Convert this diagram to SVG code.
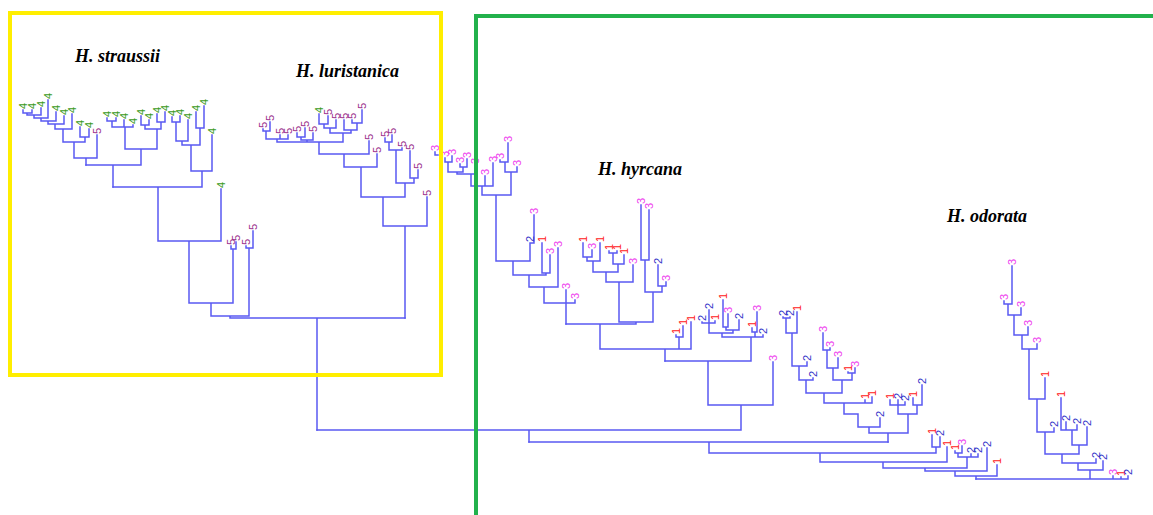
<svg xmlns="http://www.w3.org/2000/svg" width="1153" height="515" viewBox="0 0 1153 515">
<style>
.ln{fill:none;stroke:#5a5af2;stroke-width:1.5;stroke-linecap:square}
.lb text{font-family:"Liberation Sans",Arial,sans-serif;font-size:11px}
.c1{fill:#ff2020}.c2{fill:#3434c8}.c3{fill:#ee3cee}.c4{fill:#3a9a1a}.c5{fill:#9a2e8c}
.ttl{font-family:"Liberation Serif","Times New Roman",serif;font-size:18px;font-weight:bold;font-style:italic;fill:#000}
</style>
<rect width="1153" height="515" fill="#fff"/>
<g id="connectors" class="ln">
<path d="M23 110V113M32 110V113M41 108V115M48 100V118M56 112V121M64 116V124M72 114V129M80 127V137M89 129V137M97 135V158M23 113H32M27 113V115M27 115H41M34 115V118M34 118H48M41 118V121M41 121H56M48 121V124M48 124H64M55 124V129M55 129H72M63 129V142M80 137H89M85 137V142M63 142H85M74 142V158M74 158H97M86 158V165"/>
<path d="M107 118V121M116 118V121M124 120V127M133 125V127M141 116V125M149 120V125M157 114V122M165 112V122M107 121H116M112 121V127M112 127H133M125 127V149M141 125H149M145 125V129M157 122H165M161 122V129M145 129H161M157 129V149M125 149H157M141 149V165M86 165H141M113 165V187"/>
<path d="M172 117V122M180 116V122M188 120V141M196 112V128M204 106V128M212 135V171M172 122H180M176 122V141M176 141H188M182 141V145M196 128H204M200 128V145M182 145H200M191 145V171M191 171H212M202 171V187M113 187H202M158 187V241M221 189V241M158 241H221M189 241V303M231 246V249M236 242V249M231 249H236M233 249V303M189 303H233M211 303V316M246 246V248M253 231V248M246 248H253M249 248V316M211 316H249M230 316V318M230 318H405M317 318V430"/>
<path d="M263 129V131M270 122V131M263 131H270M266 131V139M280 135V139M288 135V139M266 139H288M277 139V142M297 133V137M305 128V137M297 137H305M301 137V140M313 133V140M301 140H313M307 140V142M319 114V124M328 116V124M319 124H328M324 124V128M336 120V128M324 128H336M330 128V133M352 120V123M362 110V123M352 123H362M357 123V130M344 120V130M344 130H357M351 130V133M330 133H351M343 133V142M277 142H343M319 142V154M369 141V154M319 154H369M344 154V167M377 154V167M344 167H377M361 167V197M385 138V142M392 135V142M385 142H392M389 142V150M402 148V150M389 150H402M396 150V183M410 151V178M418 170V178M410 178H418M414 178V183M396 183H414M405 183V197M361 197H405M383 197V226M427 197V226M383 226H427M405 226V318"/>
<path d="M435 152V155H438M445 158V162M452 156V162M445 162H452M448 162V172M460 164V167M467 159V167M460 167H467M463 167V172M448 172H463M457 172V174M475 165V174M457 174H475M471 174V186M485 176V186M493 163V186M471 186H493M482 186V195M500 160V162M508 143V162M500 162H508M505 162V172M517 167V172M505 172H517M511 172V195M482 195H511M496 195V261M534 215V243M530 243H534M530 243V261M496 261H530M513 261V275M542 243V273M550 255V273M542 273H550M546 273V275M513 275H546M529 275V287M558 248V287M529 287H558M544 287V303M566 290V303M575 300V303M544 303H575M566 303V324"/>
<path d="M583 243V257M592 250V257M583 257H592M587 257V261M600 243V261M587 261H600M593 261V272M609 251V253M617 251V253M609 253H617M613 253V264M624 255V264M613 264H624M618 264V272M593 272H618M606 272V282M633 265V282M606 282H633M619 282V322M641 205V260M649 210V260M641 260H649M645 260V292M658 265V286M666 282V286M658 286H666M662 286V292M645 292H662M653 292V322M619 322H653M636 322V324M566 324H636M600 324V349M676 335V337M683 326V337M676 337H683M679 337V349M691 322V349M600 349H691M665 349V361"/>
<path d="M702 322V323M709 310V323M715 321V323M702 323H715M709 323V333M723 300V327M728 314V327M723 327H728M726 327V330M739 320V330M726 330H739M733 330V333M709 333H733M722 333V337M752 328V332M757 312V332M752 332H757M755 332V337M763 335V337M722 337H763M751 337V361M665 361H751M708 361V405M773 362V405M708 405H773M741 405V430M317 430H741M529 430V442"/>
<path d="M783 317V318M790 317V318M783 318H790M786 318V333M797 312V333M786 333H797M792 333V366M807 362V366M792 366H807M799 366V380M813 378V380M799 380H813M806 380V393M823 333V350M830 348V350M823 350H830M827 350V368M838 358V368M827 368H838M833 368V380M848 372V373M855 368V373M848 373H855M852 373V380M833 380H852M842 380V393M806 393H842M824 393V403M865 400V403M872 397V403M824 403H872M844 403V414H858V427M880 418V427M858 427H880M869 427V433M890 400V405M898 400V405M905 402V405M890 405H905M898 405V414M913 398V405M922 385V405M913 405H922M917 405V414M898 414H917M908 414V433M869 433H908M888 433V442"/>
<path d="M529 442H888M709 442V453M932 435V447M940 437V447M932 447H940M936 447V453M709 453H936M820 453V462M947 447V462M820 462H947M883 462V468M955 451V453M962 446V453M955 453H962M958 453V457M971 454V457M978 454V457M958 457H978M967 457V468M883 468H967M925 468V471M987 448V471M925 471H987M955 471V476M997 465V476M955 476H997M976 476V479"/>
<path d="M1004 301V304M1012 266V304M1004 304H1012M1008 304V315M1021 308V315M1008 315H1021M1014 315V335M1028 327V335M1014 335H1028M1022 335V349M1037 344V349M1022 349H1037M1029 349V399M1045 378V399M1029 399H1045M1037 399V432M1054 428V432M1037 432H1054M1045 432V454M1061 398V430M1066 422V430M1077 425V430M1061 430H1077M1072 430V445M1087 427V445M1072 445H1087M1079 445V454M1045 454H1079M1062 454V463M1096 459V463M1062 463H1096M1078 463V470M1103 461V470M1078 470H1103M1090 470V479M1113 476V479M1121 477V479M1128 476V479M976 479H1128"/>
</g>
<g id="clade-straussii" class="lb">
<text class="c4" transform="translate(27,109)rotate(-90)">4</text>
<text class="c4" transform="translate(36,109)rotate(-90)">4</text>
<text class="c4" transform="translate(45,107)rotate(-90)">4</text>
<text class="c4" transform="translate(52,99)rotate(-90)">4</text>
<text class="c4" transform="translate(60,111)rotate(-90)">4</text>
<text class="c4" transform="translate(68,115)rotate(-90)">4</text>
<text class="c4" transform="translate(76,113)rotate(-90)">4</text>
<text class="c4" transform="translate(84,126)rotate(-90)">4</text>
<text class="c4" transform="translate(93,128)rotate(-90)">4</text>
<text class="c5" transform="translate(101,134)rotate(-90)">5</text>
<text class="c4" transform="translate(111,117)rotate(-90)">4</text>
<text class="c4" transform="translate(120,117)rotate(-90)">4</text>
<text class="c4" transform="translate(128,119)rotate(-90)">4</text>
<text class="c4" transform="translate(137,124)rotate(-90)">4</text>
<text class="c4" transform="translate(145,115)rotate(-90)">4</text>
<text class="c4" transform="translate(153,119)rotate(-90)">4</text>
<text class="c4" transform="translate(161,113)rotate(-90)">4</text>
<text class="c4" transform="translate(169,111)rotate(-90)">4</text>
<text class="c4" transform="translate(176,116)rotate(-90)">4</text>
<text class="c4" transform="translate(184,115)rotate(-90)">4</text>
<text class="c4" transform="translate(192,119)rotate(-90)">4</text>
<text class="c4" transform="translate(200,111)rotate(-90)">4</text>
<text class="c4" transform="translate(208,105)rotate(-90)">4</text>
<text class="c4" transform="translate(216,134)rotate(-90)">4</text>
<text class="c4" transform="translate(225,188)rotate(-90)">4</text>
<text class="c5" transform="translate(235,245)rotate(-90)">5</text>
<text class="c5" transform="translate(240,241)rotate(-90)">5</text>
<text class="c5" transform="translate(250,245)rotate(-90)">5</text>
<text class="c5" transform="translate(257,230)rotate(-90)">5</text>
</g>
<g id="clade-luristanica" class="lb">
<text class="c5" transform="translate(267,128)rotate(-90)">5</text>
<text class="c5" transform="translate(274,121)rotate(-90)">5</text>
<text class="c5" transform="translate(284,134)rotate(-90)">5</text>
<text class="c5" transform="translate(292,134)rotate(-90)">5</text>
<text class="c5" transform="translate(301,132)rotate(-90)">5</text>
<text class="c5" transform="translate(309,127)rotate(-90)">5</text>
<text class="c5" transform="translate(317,132)rotate(-90)">5</text>
<text class="c4" transform="translate(323,113)rotate(-90)">4</text>
<text class="c5" transform="translate(332,115)rotate(-90)">5</text>
<text class="c5" transform="translate(340,119)rotate(-90)">5</text>
<text class="c5" transform="translate(348,119)rotate(-90)">5</text>
<text class="c5" transform="translate(356,119)rotate(-90)">5</text>
<text class="c5" transform="translate(366,109)rotate(-90)">5</text>
<text class="c5" transform="translate(373,140)rotate(-90)">5</text>
<text class="c5" transform="translate(381,153)rotate(-90)">5</text>
<text class="c5" transform="translate(389,137)rotate(-90)">5</text>
<text class="c5" transform="translate(396,134)rotate(-90)">5</text>
<text class="c5" transform="translate(406,147)rotate(-90)">5</text>
<text class="c5" transform="translate(414,150)rotate(-90)">5</text>
<text class="c5" transform="translate(422,169)rotate(-90)">5</text>
<text class="c5" transform="translate(431,196)rotate(-90)">5</text>
</g>
<g id="clade-hyrcana" class="lb">
<text class="c3" transform="translate(439,151)rotate(-90)">3</text>
<text class="c3" transform="translate(449,157)rotate(-90)">3</text>
<text class="c3" transform="translate(456,155)rotate(-90)">3</text>
<text class="c3" transform="translate(464,163)rotate(-90)">3</text>
<text class="c3" transform="translate(471,158)rotate(-90)">3</text>
<text class="c3" transform="translate(479,164)rotate(-90)">3</text>
<text class="c3" transform="translate(489,175)rotate(-90)">3</text>
<text class="c3" transform="translate(497,162)rotate(-90)">3</text>
<text class="c3" transform="translate(504,159)rotate(-90)">3</text>
<text class="c3" transform="translate(512,142)rotate(-90)">3</text>
<text class="c3" transform="translate(521,166)rotate(-90)">3</text>
<text class="c2" transform="translate(534,242)rotate(-90)">2</text>
<text class="c3" transform="translate(538,214)rotate(-90)">3</text>
<text class="c1" transform="translate(546,242)rotate(-90)">1</text>
<text class="c3" transform="translate(554,254)rotate(-90)">3</text>
<text class="c3" transform="translate(562,247)rotate(-90)">3</text>
<text class="c3" transform="translate(570,289)rotate(-90)">3</text>
<text class="c3" transform="translate(579,299)rotate(-90)">3</text>
<text class="c1" transform="translate(587,242)rotate(-90)">1</text>
<text class="c3" transform="translate(596,249)rotate(-90)">3</text>
<text class="c1" transform="translate(604,242)rotate(-90)">1</text>
<text class="c1" transform="translate(613,250)rotate(-90)">1</text>
<text class="c1" transform="translate(621,250)rotate(-90)">1</text>
<text class="c1" transform="translate(628,254)rotate(-90)">1</text>
<text class="c3" transform="translate(637,264)rotate(-90)">3</text>
<text class="c3" transform="translate(645,204)rotate(-90)">3</text>
<text class="c3" transform="translate(653,209)rotate(-90)">3</text>
<text class="c2" transform="translate(662,264)rotate(-90)">2</text>
<text class="c3" transform="translate(670,281)rotate(-90)">3</text>
<text class="c1" transform="translate(680,334)rotate(-90)">1</text>
<text class="c1" transform="translate(687,325)rotate(-90)">1</text>
<text class="c1" transform="translate(695,321)rotate(-90)">1</text>
<text class="c2" transform="translate(706,321)rotate(-90)">2</text>
<text class="c2" transform="translate(713,309)rotate(-90)">2</text>
<text class="c1" transform="translate(719,320)rotate(-90)">1</text>
<text class="c1" transform="translate(727,299)rotate(-90)">1</text>
<text class="c3" transform="translate(732,313)rotate(-90)">3</text>
<text class="c2" transform="translate(743,319)rotate(-90)">2</text>
<text class="c1" transform="translate(756,327)rotate(-90)">1</text>
<text class="c3" transform="translate(761,311)rotate(-90)">3</text>
<text class="c2" transform="translate(767,334)rotate(-90)">2</text>
<text class="c3" transform="translate(777,361)rotate(-90)">3</text>
</g>
<g id="clade-mixed" class="lb">
<text class="c2" transform="translate(787,316)rotate(-90)">2</text>
<text class="c2" transform="translate(794,316)rotate(-90)">2</text>
<text class="c1" transform="translate(801,311)rotate(-90)">1</text>
<text class="c2" transform="translate(811,361)rotate(-90)">2</text>
<text class="c2" transform="translate(817,377)rotate(-90)">2</text>
<text class="c3" transform="translate(827,332)rotate(-90)">3</text>
<text class="c3" transform="translate(834,347)rotate(-90)">3</text>
<text class="c3" transform="translate(842,357)rotate(-90)">3</text>
<text class="c1" transform="translate(852,371)rotate(-90)">1</text>
<text class="c3" transform="translate(859,367)rotate(-90)">3</text>
<text class="c1" transform="translate(869,399)rotate(-90)">1</text>
<text class="c1" transform="translate(876,396)rotate(-90)">1</text>
<text class="c2" transform="translate(884,417)rotate(-90)">2</text>
<text class="c1" transform="translate(894,399)rotate(-90)">1</text>
<text class="c2" transform="translate(902,399)rotate(-90)">2</text>
<text class="c2" transform="translate(909,401)rotate(-90)">2</text>
<text class="c1" transform="translate(917,397)rotate(-90)">1</text>
<text class="c2" transform="translate(926,384)rotate(-90)">2</text>
<text class="c1" transform="translate(936,434)rotate(-90)">1</text>
<text class="c2" transform="translate(944,436)rotate(-90)">2</text>
<text class="c1" transform="translate(951,446)rotate(-90)">1</text>
<text class="c1" transform="translate(959,450)rotate(-90)">1</text>
<text class="c3" transform="translate(966,445)rotate(-90)">3</text>
<text class="c2" transform="translate(975,453)rotate(-90)">2</text>
<text class="c2" transform="translate(982,453)rotate(-90)">2</text>
<text class="c2" transform="translate(991,447)rotate(-90)">2</text>
<text class="c1" transform="translate(1001,464)rotate(-90)">1</text>
</g>
<g id="clade-odorata" class="lb">
<text class="c3" transform="translate(1008,300)rotate(-90)">3</text>
<text class="c3" transform="translate(1016,265)rotate(-90)">3</text>
<text class="c3" transform="translate(1025,307)rotate(-90)">3</text>
<text class="c3" transform="translate(1032,326)rotate(-90)">3</text>
<text class="c3" transform="translate(1041,343)rotate(-90)">3</text>
<text class="c1" transform="translate(1049,377)rotate(-90)">1</text>
<text class="c2" transform="translate(1058,427)rotate(-90)">2</text>
<text class="c1" transform="translate(1065,397)rotate(-90)">1</text>
<text class="c2" transform="translate(1070,421)rotate(-90)">2</text>
<text class="c2" transform="translate(1081,424)rotate(-90)">2</text>
<text class="c2" transform="translate(1091,426)rotate(-90)">2</text>
<text class="c2" transform="translate(1100,458)rotate(-90)">2</text>
<text class="c2" transform="translate(1107,460)rotate(-90)">2</text>
<text class="c3" transform="translate(1117,475)rotate(-90)">3</text>
<text class="c1" transform="translate(1125,476)rotate(-90)">1</text>
<text class="c2" transform="translate(1132,475)rotate(-90)">2</text>
</g>
<g id="box-yellow"><rect x="10" y="13" width="431" height="362" fill="none" stroke="#ffee00" stroke-width="4"/></g>
<g id="box-green"><path d="M476 515V16H1153" fill="none" stroke="#22b14c" stroke-width="4"/></g>
<g id="titles">
<text id="t-straussii" class="ttl" x="75" y="62">H. straussii</text>
<text id="t-luristanica" class="ttl" x="296" y="77">H. luristanica</text>
<text id="t-hyrcana" class="ttl" x="598" y="175">H. hyrcana</text>
<text id="t-odorata" class="ttl" x="947" y="222">H. odorata</text>
</g>
</svg>
